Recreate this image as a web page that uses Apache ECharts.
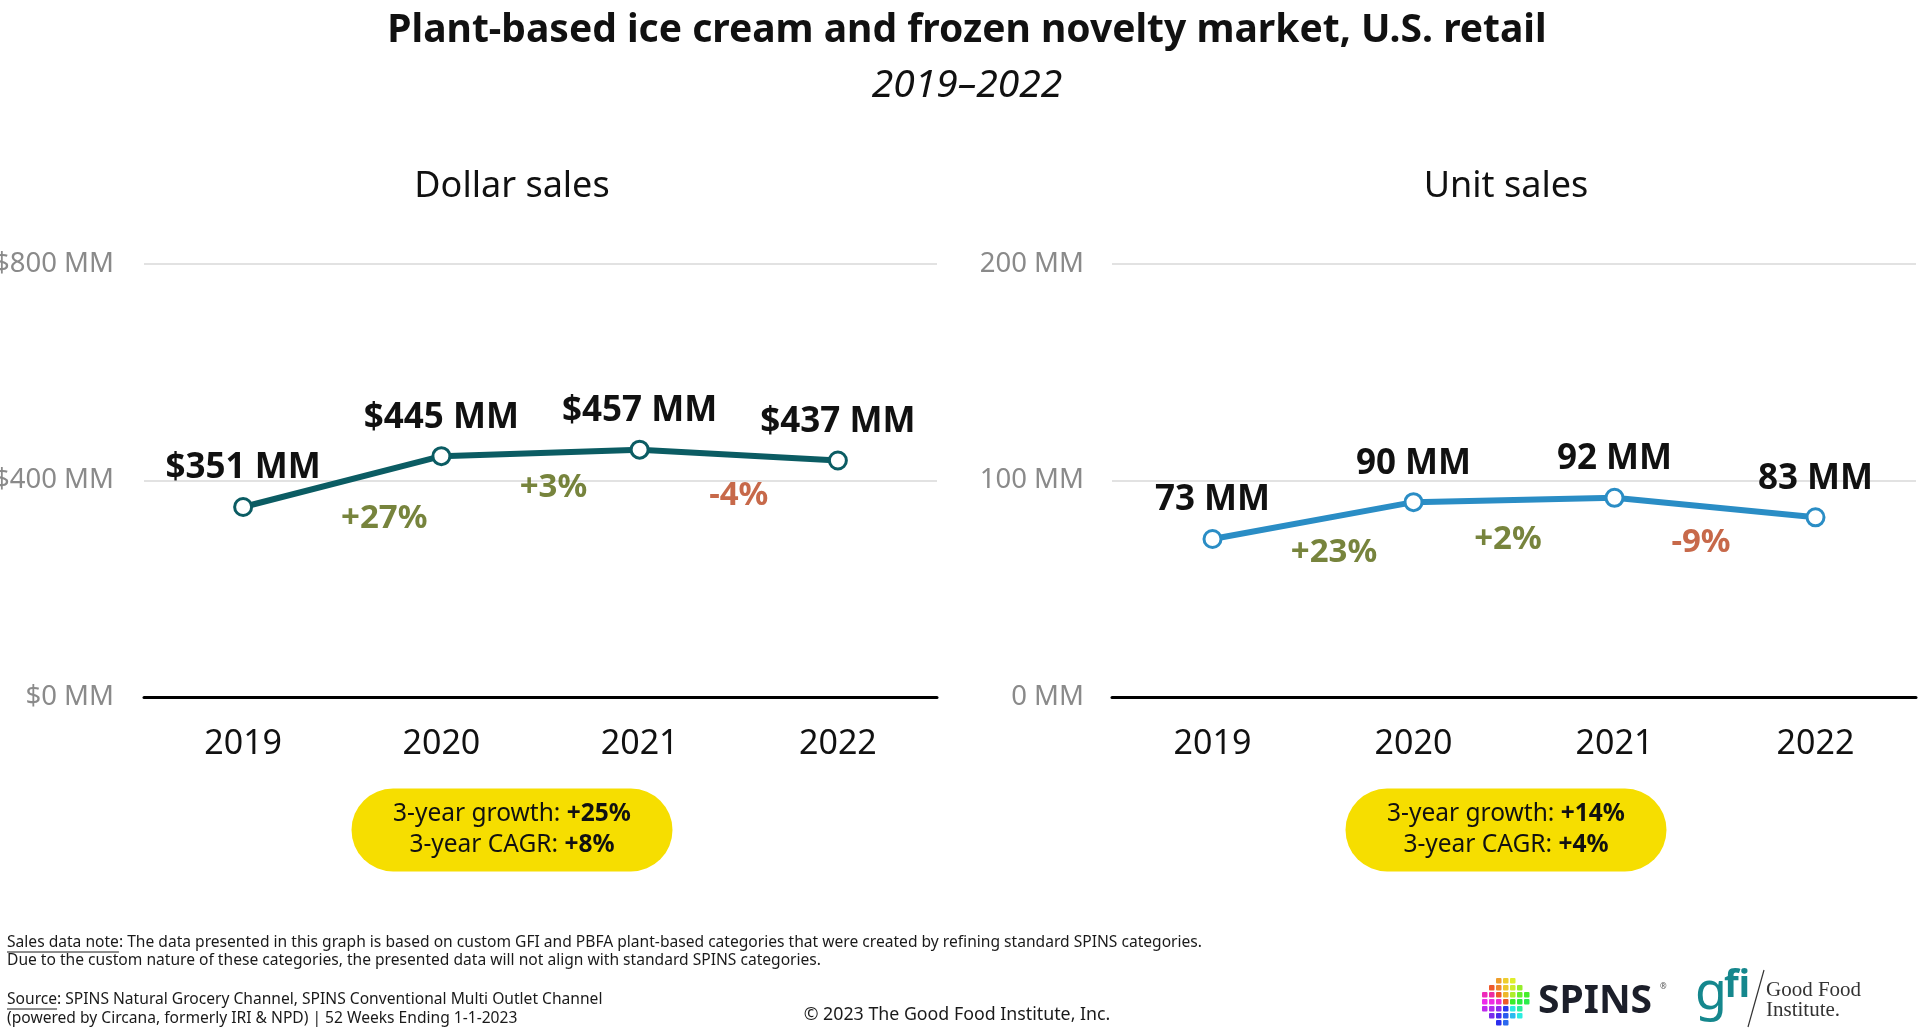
<!DOCTYPE html>
<html>
<head>
<meta charset="utf-8">
<script src="https://cdn.jsdelivr.net/npm/echarts@6/dist/echarts.min.js"></script>
<style>
html,body{margin:0;padding:0;background:#fff;}
#chart{width:1920px;height:1036px;}
</style>
</head>
<body>
<div id="chart"></div>
<script>
// ---------- data ----------
const years = ['2019', '2020', '2021', '2022'];
const dollarSales = [351, 445, 457, 437];          // $ MM
const unitSales = [73, 90, 92, 83];                // MM units
const dollarChange = ['+27%', '+3%', '-4%'];
const unitChange = ['+23%', '+2%', '-9%'];
const dollarSummary = { growth: '+25%', cagr: '+8%' };
const unitSummary = { growth: '+14%', cagr: '+4%' };
const dollarAxis = { min: 0, max: 800, interval: 400 };
const unitAxis = { min: 0, max: 200, interval: 100 };

const titleText = 'Plant-based ice cream and frozen novelty market, U.S. retail';
const subtitleText = '2019\u20132022';
const panelTitles = ['Dollar sales', 'Unit sales'];
const noteLines = [
  ['Sales data note', ': The data presented in this graph is based on custom GFI and PBFA plant-based categories that were created by refining standard SPINS categories.'],
  ['', 'Due to the custom nature of these categories, the presented data will not align with standard SPINS categories.']
];
const sourceLines = [
  ['Source', ': SPINS Natural Grocery Channel, SPINS Conventional Multi Outlet Channel'],
  ['', '(powered by Circana, formerly IRI & NPD) | 52 Weeks Ending 1-1-2023']
];
const copyrightText = '\u00A9 2023 The Good Food Institute, Inc.';

// ---------- style ----------
const FONT = '"Noto Sans", "Open Sans", sans-serif';
const SERIF = '"Liberation Serif", "DejaVu Serif", serif';
const dollarColor = '#0b5c63';
const unitColor = '#2a8dc5';
const upColor = '#55650c';
const downColor = '#b9441d';
const pillColor = '#f6de00';
// pixel nudges of the change labels relative to segment midpoints
const dollarChangeOffsets = [[42, 37], [13, 35], [0, 41]];
const unitChangeOffsets = [[21, 32], [-6, 40], [-14, 35]];

const chart = echarts.init(document.getElementById('chart'), null, { renderer: 'canvas' });

function lineSeries(values, color, xIdx, yIdx, fmt) {
  return {
    type: 'line', xAxisIndex: xIdx, yAxisIndex: yIdx, data: values, z: 5,
    symbol: 'circle', symbolSize: 17,
    lineStyle: { color: color, width: 6 },
    itemStyle: { color: '#fff', borderColor: color, borderWidth: 3 },
    label: {
      show: true, position: 'top', distance: 11,
      fontFamily: FONT, fontSize: 35, fontWeight: 'bold', color: '#111',
      formatter: p => fmt(p.value)
    },
    emphasis: { disabled: true }, animation: false
  };
}

function changeSeries(values, changes, offsets, xIdx, yIdx) {
  return {
    type: 'scatter', xAxisIndex: xIdx, yAxisIndex: yIdx, symbolSize: 0, z: 4,
    data: changes.map((c, i) => ({
      value: [i + 0.5, (values[i] + values[i + 1]) / 2],
      label: {
        show: true, position: 'inside', offset: offsets[i],
        formatter: c, fontFamily: FONT, fontSize: 33, fontWeight: 'bold',
        color: c.trim().startsWith('-') ? downColor : upColor
      }
    })),
    emphasis: { disabled: true }, animation: false
  };
}

function catAxis(gi) {
  return {
    type: 'category', gridIndex: gi, data: years, boundaryGap: true,
    axisLine: { lineStyle: { color: '#000', width: 3 } },
    axisTick: { show: false },
    axisLabel: { fontFamily: FONT, fontSize: 34, color: '#111', margin: 30 }
  };
}
function hiddenX(gi) {
  return { type: 'value', gridIndex: gi, min: -0.5, max: 3.5, show: false };
}
function valAxis(gi, ax, fmt, margin) {
  return {
    type: 'value', gridIndex: gi, min: ax.min, max: ax.max, interval: ax.interval,
    axisLine: { show: false }, axisTick: { show: false },
    splitLine: { lineStyle: { color: '#e2e2e2', width: 2 } },
    axisLabel: { fontFamily: FONT, fontSize: 27.5, color: '#8a8a8a', margin: margin, formatter: fmt }
  };
}

// text measuring for underlines
const mctx = document.createElement('canvas').getContext('2d');
function textW(t, size) { mctx.font = size + 'px ' + FONT; return mctx.measureText(t).width; }

function gText(x, y, text, opts) {
  return {
    type: 'text', x: x, y: y, silent: true,
    style: Object.assign({ text: text, fontFamily: FONT, fill: '#111', align: 'center', verticalAlign: 'middle' }, opts)
  };
}

function pill(cx, cy, s) {
  const w = 321, h = 83;
  return {
    type: 'group', silent: true,
    children: [
      { type: 'rect', shape: { x: cx - w / 2, y: cy - h / 2, width: w, height: h, r: h / 2 }, style: { fill: pillColor } },
      {
        type: 'text', x: cx, y: cy,
        style: {
          text: '{n|3-year growth: }{b|' + s.growth + '}\n{n|3-year CAGR: }{b|' + s.cagr + '}',
          align: 'center', verticalAlign: 'middle',
          rich: {
            n: { fontFamily: FONT, fontSize: 24.5, fill: '#111', lineHeight: 31 },
            b: { fontFamily: FONT, fontSize: 24.5, fontWeight: 'bold', fill: '#111', lineHeight: 31 }
          }
        }
      }
    ]
  };
}

const footSize = 15.6;
const graphics = [];
graphics.push(gText(967, 31, titleText, { fontSize: 39, fontWeight: 'bold' }));
graphics.push(gText(967, 86, subtitleText, { fontSize: 39, fontStyle: 'italic' }));
graphics.push(gText(512, 187, panelTitles[0], { fontSize: 36 }));
graphics.push(gText(1506, 187, panelTitles[1], { fontSize: 36 }));
graphics.push(pill(512, 830, dollarSummary));
graphics.push(pill(1506, 830, unitSummary));

function footBlock(lines, y0, dy) {
  lines.forEach((ln, i) => {
    const y = y0 + i * dy;
    graphics.push(gText(7, y, ln[0] + ln[1], { fontSize: footSize, align: 'left', fill: '#1a1a1a' }));
    if (ln[0]) {
      const w = textW(ln[0], footSize);
      graphics.push({ type: 'line', silent: true, shape: { x1: 7, y1: y + 9, x2: 7 + w, y2: y + 9 }, style: { stroke: '#1a1a1a', lineWidth: 1 } });
    }
  });
}
footBlock(noteLines, 943, 18);
footBlock(sourceLines, 1000, 19);
graphics.push(gText(957, 1015, copyrightText, { fontSize: 17.8, fill: '#1a1a1a' }));

// SPINS logo (globe of coloured tiles + wordmark)
(function () {
  const cx = 1505, cy = 1001, R = 23, step = 7;
  for (let gx = -R; gx <= R; gx += step) {
    for (let gy = -R; gy <= R; gy += step) {
      const d = Math.hypot(gx + 3, gy + 3);
      if (d > R) continue;
      const ang = Math.atan2(gy, gx) * 180 / Math.PI;
      const hue = ((ang + 360 + 150) % 360) * 0.9;
      graphics.push({ type: 'rect', silent: true, shape: { x: cx + gx, y: cy + gy, width: 5.5, height: 5.5, r: 1 }, style: { fill: 'hsl(' + hue.toFixed(0) + ',85%,55%)' } });
    }
  }
})();
graphics.push(gText(1538, 1002, 'SPINS', { fontSize: 39, fontWeight: 'bold', fill: '#1c1f2a', align: 'left' }));
graphics.push(gText(1660, 987, '\u00AE', { fontSize: 8, fill: '#555', align: 'left' }));
// GFI logo
graphics.push(gText(1695, 994, 'g', { fontSize: 52, fill: '#15878d', align: 'left' }));
graphics.push(gText(1724, 986, 'fi', { fontSize: 38, fontWeight: 'bold', fill: '#15878d', align: 'left' }));
graphics.push({ type: 'line', silent: true, shape: { x1: 1764, y1: 970, x2: 1748, y2: 1027 }, style: { stroke: '#333', lineWidth: 1.2 } });
graphics.push(gText(1766, 990, 'Good Food', { fontSize: 21, fontFamily: SERIF, fill: '#333', align: 'left' }));
graphics.push(gText(1766, 1010, 'Institute.', { fontSize: 21, fontFamily: SERIF, fill: '#333', align: 'left' }));

const option = {
  backgroundColor: '#fff',
  animation: false,
  grid: [
    { left: 144, right: 983, top: 264, bottom: 339, containLabel: false, outerBoundsMode: 'none' },
    { left: 1112, right: 4, top: 264, bottom: 339, containLabel: false, outerBoundsMode: 'none' }
  ],
  xAxis: [catAxis(0), catAxis(1), hiddenX(0), hiddenX(1)],
  yAxis: [
    valAxis(0, dollarAxis, v => '$' + v + ' MM', 30),
    valAxis(1, unitAxis, v => v + ' MM', 28)
  ],
  series: [
    changeSeries(dollarSales, dollarChange, dollarChangeOffsets, 2, 0),
    changeSeries(unitSales, unitChange, unitChangeOffsets, 3, 1),
    lineSeries(dollarSales, dollarColor, 0, 0, v => '$' + v + ' MM'),
    lineSeries(unitSales, unitColor, 1, 1, v => v + ' MM')
  ],
  graphic: graphics
};
chart.setOption(option);
</script>
</body>
</html>
